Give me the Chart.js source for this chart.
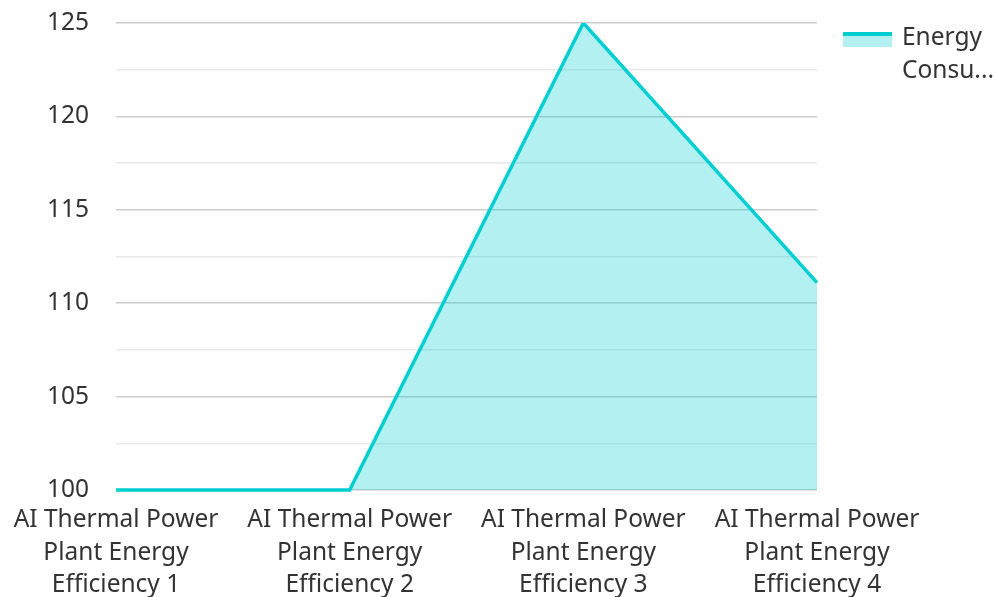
<!DOCTYPE html>
<html>
<head>
<meta charset="utf-8">
<script src="https://cdn.jsdelivr.net/npm/chart.js@4.4.0/dist/chart.umd.min.js"></script>
<style>
  html, body { margin: 0; padding: 0; background: #fff; }
  #wrap { position: relative; width: 996px; height: 597px; }
  #legend { position: absolute; left: 843px; top: 19px; font-family: "Noto Sans", sans-serif; font-size: 24.5px; color: #333; }
  #legend .sw { position: absolute; left: 0; top: 13px; width: 49px; height: 15px; background: rgba(0,206,209,0.3); }
  #legend .sw::before { content: ""; position: absolute; left: 0; top: 0; width: 49px; height: 4px; background: #00CED1; }
  #legend .txt { position: absolute; left: 59px; top: 0; line-height: 33px; white-space: nowrap; }
</style>
</head>
<body>
<div id="wrap">
  <canvas id="c" width="996" height="597"></canvas>
  <div id="legend"><div class="sw"></div><div class="txt">Energy<br>Consu...</div></div>
</div>
<script>
const categories = [
  ["AI Thermal Power", "Plant Energy", "Efficiency 1"],
  ["AI Thermal Power", "Plant Energy", "Efficiency 2"],
  ["AI Thermal Power", "Plant Energy", "Efficiency 3"],
  ["AI Thermal Power", "Plant Energy", "Efficiency 4"]
];
const seriesName = "Energy Consumption";
const energyValues = [100, 100, 125, 111.1];
const yMin = 100, yMax = 125, yStep = 2.5, yLabelStep = 5;

const ctx = document.getElementById('c');
new Chart(ctx, {
  type: 'line',
  data: {
    labels: categories,
    datasets: [{
      label: seriesName,
      data: energyValues,
      borderColor: '#00CED1',
      backgroundColor: 'rgba(0,206,209,0.3)',
      borderWidth: 3.5,
      fill: 'start',
      tension: 0,
      pointRadius: 0,
      pointHoverRadius: 0,
      clip: { left: 6, top: 0, right: 6, bottom: 6 }
    }]
  },
  options: {
    responsive: false,
    animation: false,
    layout: { padding: { top: 23, right: 179, left: 0, bottom: 0 } },
    plugins: { legend: { display: false }, tooltip: { enabled: false } },
    scales: {
      x: {
        offset: false,
        grid: { display: false, drawTicks: false },
        border: { display: false },
        ticks: {
          color: '#333', padding: 14, maxRotation: 0, autoSkip: false,
          font: { family: 'Noto Sans', size: 24.5, lineHeight: 1.327 }
        },
        afterFit: (s) => { s.height = 107; s.paddingLeft = 0; s.paddingRight = 0; }
      },
      y: {
        min: yMin, max: yMax,
        grid: {
          drawTicks: false,
          color: (c) => (Math.abs((c.tick.value / yLabelStep) - Math.round(c.tick.value / yLabelStep)) < 1e-6 ? '#cccccc' : '#e8e8e8'),
          lineWidth: 1.5
        },
        border: { display: false },
        ticks: {
          stepSize: yStep, color: '#333', padding: 27,
          font: { family: 'Noto Sans', size: 24.5 },
          callback: (v) => (Math.abs(v / yLabelStep - Math.round(v / yLabelStep)) < 1e-6 ? v : '')
        },
        afterFit: (s) => { s.width = 116; s.paddingTop = 0; s.paddingBottom = 0; }
      }
    }
  }
});
</script>
</body>
</html>
